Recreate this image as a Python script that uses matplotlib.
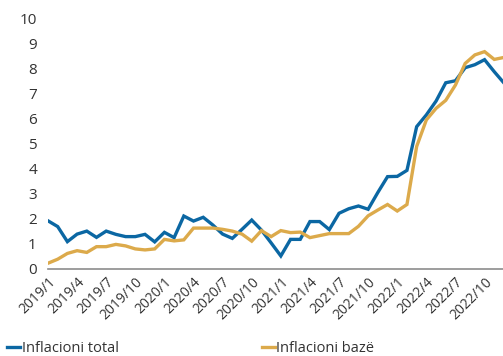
import matplotlib
matplotlib.use('Agg')
import matplotlib.pyplot as plt

plt.rcParams['font.family'] = ['Open Sans', 'DejaVu Sans']

# monthly periods 2019/1 .. 2022/12
months = [f'{y}/{m}' for y in range(2019, 2023) for m in range(1, 13)]

# annual inflation, %
inflacioni_total = [1.92, 1.69, 1.09, 1.39, 1.51, 1.26, 1.51, 1.38, 1.29, 1.29, 1.38, 1.08,
                    1.46, 1.25, 2.11, 1.91, 2.06, 1.75, 1.39, 1.22, 1.58, 1.95, 1.55, 1.04,
                    0.52, 1.18, 1.18, 1.89, 1.89, 1.57, 2.22, 2.40, 2.51, 2.38, 3.05, 3.68,
                    3.69, 3.93, 5.67, 6.14, 6.69, 7.42, 7.50, 8.02, 8.14, 8.34, 7.86, 7.41]
inflacioni_baze = [0.23, 0.39, 0.62, 0.73, 0.66, 0.89, 0.89, 0.98, 0.92, 0.80, 0.76, 0.80,
                   1.18, 1.12, 1.16, 1.63, 1.63, 1.63, 1.58, 1.51, 1.39, 1.11, 1.53, 1.29,
                   1.53, 1.45, 1.47, 1.25, 1.33, 1.41, 1.41, 1.41, 1.70, 2.12, 2.35, 2.57,
                   2.31, 2.57, 4.88, 5.94, 6.40, 6.72, 7.33, 8.19, 8.53, 8.66, 8.35, 8.43]

blue = '#0b67a3'
gold = '#dcaa4b'

fig = plt.figure(figsize=(5.03, 3.56), dpi=100)
ax = fig.add_axes([0.0954, 0.2444, 0.9046, 0.705])

x = range(len(months))
ax.plot(x, inflacioni_total, color=blue, lw=2.4, label='Inflacioni total', solid_joinstyle='miter')
ax.plot(x, inflacioni_baze, color=gold, lw=2.4, label='Inflacioni bazë', solid_joinstyle='miter')

ax.set_xlim(0, 46.9)
ax.set_ylim(0, 10)
ax.set_yticks(range(0, 11))
ax.tick_params(axis='y', length=0, labelsize=11, colors='#333333', pad=8)
ax.set_xticks(list(x)[::3])
ax.set_xticklabels(months[::3], rotation=45, ha='right', rotation_mode='anchor',
                   fontsize=10, color='#333333')
ax.tick_params(axis='x', length=0, pad=4)

for side in ['top', 'right', 'left']:
    ax.spines[side].set_visible(False)
ax.spines['bottom'].set_color('#8c8c8c')
ax.spines['bottom'].set_linewidth(1.2)

fig.legend(loc='lower left', bbox_to_anchor=(0.014, 0.0), ncol=2, frameon=False,
           borderpad=0, borderaxespad=0,
           handlelength=0.9, handletextpad=0.1, columnspacing=9.8, fontsize=10.5,
           labelcolor='#333333')

plt.savefig('out.png', dpi=100)
